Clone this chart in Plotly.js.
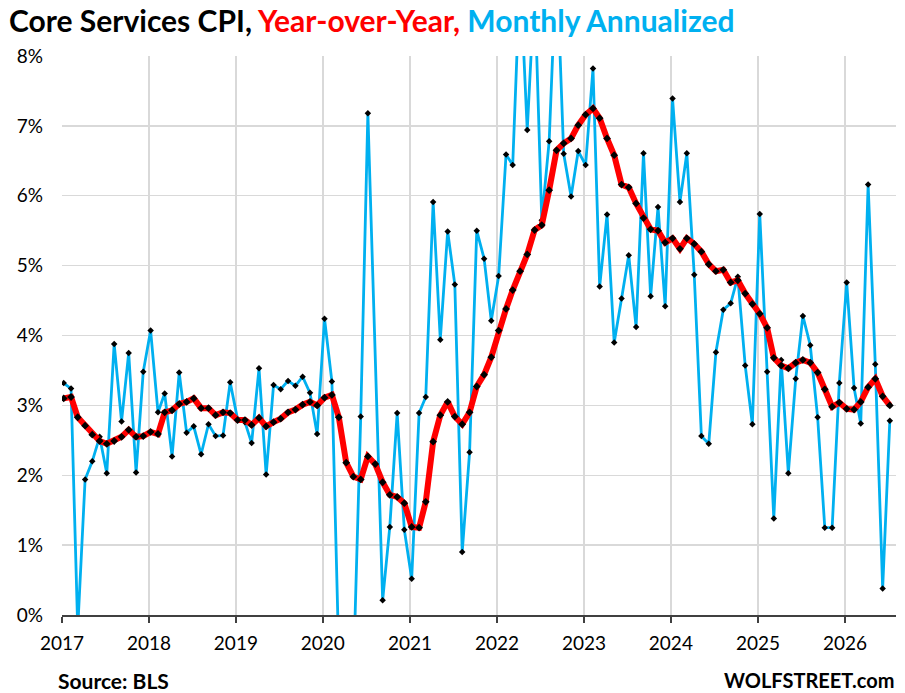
<!DOCTYPE html>
<html>
<head>
<meta charset="utf-8">
<script src="https://cdn.plot.ly/plotly-3.0.1.min.js"></script>
<style>
  html, body { margin: 0; padding: 0; background: #fff; }
  #chart { width: 905px; height: 693px; }
</style>
</head>
<body>
<div id="chart"></div>
<script>
// Monthly data, Jan 2017 – Jul 2026 (null = no marker drawn in the original)
const startYear = 2017;

const monthlyAnnualized = [
  // 2017
  3.32, 3.24, -0.2, 1.94, 2.20, 2.55, 2.03, 3.88, 2.77, 3.75, 2.04, 3.48,
  // 2018
  4.07, 2.90, 3.17, 2.27, 3.47, 2.61, 2.70, 2.30, 2.73, 2.56, 2.57, 3.33,
  // 2019
  2.80, 2.76, 2.46, 3.53, 2.01, 3.29, 3.23, 3.35, 3.28, 3.41, 3.18, 2.59,
  // 2020
  4.24, 3.34, -0.6, -2.5, -0.9, 2.84, 7.18, null, 0.21, 1.26, 2.89, 1.22,
  // 2021
  0.52, 2.89, 3.12, 5.91, 3.94, 5.49, 4.73, 0.90, 2.33, 5.50, 5.10, 4.21,
  // 2022
  4.85, 6.59, 6.44, 9.2, 6.94, 9.0, 5.65, 6.78, 9.4, 6.60, 5.99, 6.64,
  // 2023
  6.44, 7.82, 4.70, 5.73, 3.90, 4.53, 5.15, 4.12, 6.61, 4.56, 5.84, 4.42,
  // 2024
  7.39, 5.91, 6.61, 4.87, 2.56, 2.45, 3.76, 4.37, 4.46, 4.84, 3.57, 2.73,
  // 2025
  5.74, 3.48, 1.38, 3.65, 2.03, 3.38, 4.28, 3.86, 2.83, 1.25, 1.25, 3.32,
  // 2026
  4.76, 3.25, 2.74, 6.16, 3.59, 0.38, 2.78
];

const yearOverYear = [
  // 2017
  3.10, 3.12, 2.83, 2.71, 2.58, 2.49, 2.45, 2.49, 2.55, 2.65, 2.55, 2.56,
  // 2018
  2.62, 2.59, 2.90, 2.93, 3.02, 3.05, 3.10, 2.96, 2.96, 2.86, 2.90, 2.89,
  // 2019
  2.79, 2.79, 2.72, 2.82, 2.70, 2.76, 2.81, 2.90, 2.94, 3.01, 3.05, 3.00,
  // 2020
  3.11, 3.15, 2.83, 2.18, 1.98, 1.94, 2.27, 2.16, 1.90, 1.72, 1.69, 1.60,
  // 2021
  1.26, 1.25, 1.62, 2.48, 2.86, 3.05, 2.84, 2.73, 2.90, 3.27, 3.44, 3.69,
  // 2022
  4.07, 4.38, 4.65, 4.92, 5.16, 5.51, 5.58, 6.08, 6.65, 6.75, 6.82, 7.01,
  // 2023
  7.16, 7.25, 7.11, 6.82, 6.58, 6.16, 6.12, 5.89, 5.68, 5.52, 5.50, 5.33,
  // 2024
  5.39, 5.24, 5.39, 5.31, 5.20, 5.02, 4.92, 4.94, 4.76, 4.79, 4.60, 4.45,
  // 2025
  4.31, 4.11, 3.68, 3.57, 3.53, 3.61, 3.65, 3.61, 3.47, 3.23, 2.98, 3.04,
  // 2026
  2.95, 2.94, 3.05, 3.26, 3.38, 3.13, 3.00
];

const yearTicks = ['2017','2018','2019','2020','2021','2022','2023','2024','2025','2026'];
const yTicks = [0, 1, 2, 3, 4, 5, 6, 7, 8];

// month category dates
const months = monthlyAnnualized.map((_, i) => {
  const y = startYear + Math.floor(i / 12);
  const m = (i % 12) + 1;
  return y + '-' + String(m).padStart(2, '0') + '-08';
});

const blue = '#00B0F0';
const red = '#FF0000';
const FONT = 'Lato, "Open Sans", sans-serif';

const traces = [
  {
    x: months, y: monthlyAnnualized, type: 'scatter', mode: 'lines+markers',
    name: 'Monthly Annualized', connectgaps: true,
    line: { color: blue, width: 2.8 },
    marker: { symbol: 'diamond', size: 5, color: '#000' }
  },
  {
    x: months, y: yearOverYear, type: 'scatter', mode: 'lines+markers',
    name: 'Year-over-Year',
    line: { color: red, width: 6 },
    marker: { symbol: 'diamond', size: 6, color: '#000' }
  }
];

const layout = {
  width: 905, height: 693,
  margin: { l: 62, r: 9, t: 56, b: 78 },
  paper_bgcolor: '#fff', plot_bgcolor: '#fff',
  showlegend: false,
  title: {
    text: '<b>Core Services CPI, <span style="color:' + red + '">Year-over-Year,</span> <span style="color:' + blue + '">Monthly Annualized</span></b>',
    x: 9 / 905, xanchor: 'left', xref: 'container',
    y: 1 - 21 / 693, yanchor: 'middle', yref: 'container',
    font: { family: FONT, size: 30, color: '#000' }
  },
  xaxis: {
    type: 'date',
    range: ['2017-01-01', '2026-08-03'],
    tickvals: yearTicks.map(y => y + '-01-01'),
    ticktext: yearTicks,
    showgrid: true, gridcolor: '#d9d9d9', gridwidth: 1.3,
    ticks: 'outside', ticklen: 6, tickwidth: 1.5, tickcolor: '#404040',
    showline: true, linecolor: '#404040', linewidth: 2,
    zeroline: false,
    ticklabelstandoff: 4,
    tickfont: { family: FONT, size: 19, color: '#000' }
  },
  yaxis: {
    range: [0, 8],
    tickvals: yTicks,
    ticktext: yTicks.map(v => v + '%'),
    showgrid: true, gridcolor: '#d9d9d9', gridwidth: 1.3,
    zeroline: false, showline: false,
    ticks: '', ticklen: 0,
    ticklabelstandoff: 18,
    tickfont: { family: FONT, size: 19, color: '#000' }
  },
  annotations: [
    {
      text: '<b>Source: BLS</b>', xref: 'paper', yref: 'paper',
      x: (56 - 62) / 834, y: (615 - 680) / 559, xanchor: 'left', yanchor: 'middle',
      showarrow: false, font: { family: FONT, size: 21, color: '#000' }
    },
    {
      text: '<b>WOLFSTREET.com</b>', xref: 'paper', yref: 'paper',
      x: (896 - 62) / 834, y: (615 - 680) / 559, xanchor: 'right', yanchor: 'middle',
      showarrow: false, font: { family: FONT, size: 20, color: '#000' }
    }
  ]
};

Plotly.newPlot('chart', traces, layout, { displayModeBar: false, staticPlot: true });
</script>
</body>
</html>
